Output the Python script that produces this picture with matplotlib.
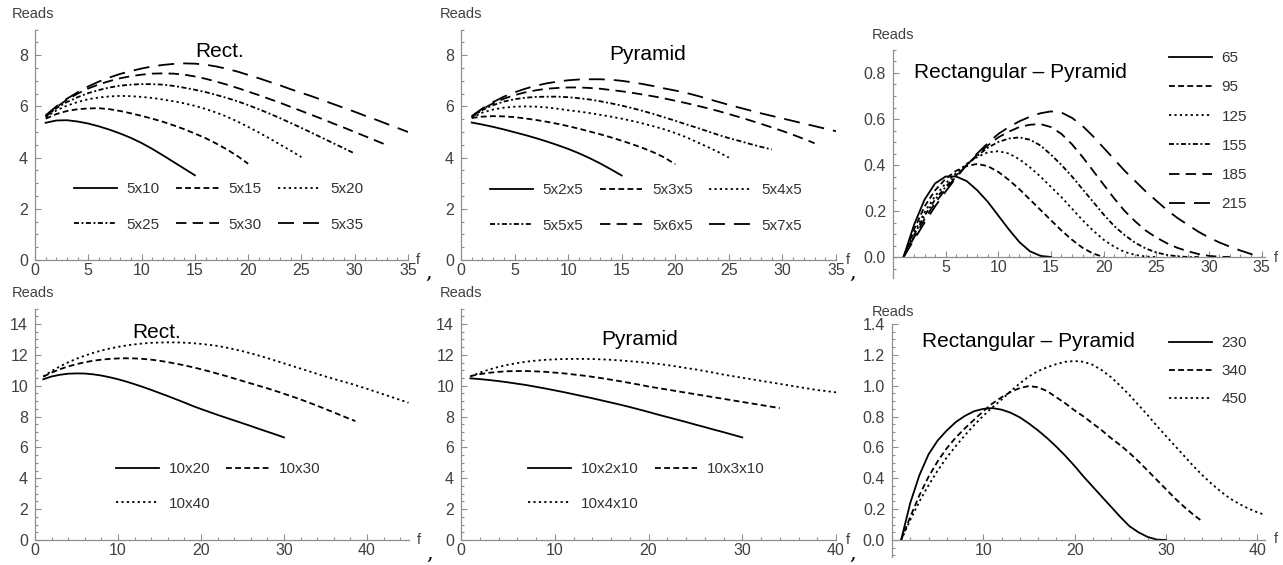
import matplotlib
matplotlib.use("Agg")
import matplotlib.pyplot as plt
from matplotlib.ticker import MultipleLocator, FixedLocator, FormatStrFormatter

plt.rcParams['font.family'] = ['Liberation Sans', 'DejaVu Sans']
plt.rcParams['lines.scale_dashes'] = False

# ---- top left: Rect. (5 x n) ----
rect5_labels = ["5x10", "5x15", "5x20", "5x25", "5x30", "5x35"]
rect5_ends = [15, 20, 25, 30, 33, 35]
rect5_10 = [5.36, 5.45, 5.46, 5.41, 5.33, 5.22, 5.09, 4.94, 4.77, 4.57, 4.34, 4.09, 3.83, 3.57, 3.31]
rect5_15 = [5.52, 5.70, 5.82, 5.89, 5.92, 5.93, 5.89, 5.82, 5.73, 5.63, 5.52, 5.40, 5.26, 5.11, 4.94,
            4.76, 4.55, 4.32, 4.06, 3.76]
rect5_20 = [5.58, 5.84, 6.03, 6.17, 6.28, 6.35, 6.39, 6.41, 6.40, 6.37, 6.33, 6.27, 6.20, 6.12, 6.02,
            5.90, 5.76, 5.60, 5.41, 5.20, 4.98, 4.75, 4.51, 4.27, 4.02]
rect5_25 = [5.60, 5.93, 6.17, 6.36, 6.52, 6.64, 6.74, 6.81, 6.85, 6.87, 6.87, 6.85, 6.80, 6.73, 6.65,
            6.56, 6.45, 6.33, 6.20, 6.05, 5.89, 5.72, 5.54, 5.35, 5.16, 4.96, 4.76, 4.56, 4.36, 4.16]
rect5_30 = [5.62, 5.97, 6.26, 6.50, 6.70, 6.86, 6.99, 7.10, 7.18, 7.24, 7.28, 7.29, 7.28, 7.24, 7.17,
            7.08, 6.97, 6.85, 6.72, 6.58, 6.44, 6.29, 6.14, 5.98, 5.82, 5.66, 5.50, 5.33, 5.17, 5.00,
            4.83, 4.66, 4.49]
rect5_35 = [5.65, 6.00, 6.30, 6.55, 6.78, 6.97, 7.13, 7.27, 7.38, 7.48, 7.56, 7.62, 7.66, 7.68, 7.67,
            7.63, 7.56, 7.47, 7.36, 7.23, 7.10, 6.96, 6.82, 6.67, 6.53, 6.39, 6.24, 6.09, 5.94, 5.79,
            5.63, 5.48, 5.32, 5.16, 5.00]

# ---- top middle: Pyramid (5 x k x 5) ----
pyr5_labels = ["5x2x5", "5x3x5", "5x4x5", "5x5x5", "5x6x5", "5x7x5"]
pyr5_ends = [15, 20, 25, 29, 33, 35]
pyr5_2 = [5.37, 5.29, 5.20, 5.10, 4.99, 4.88, 4.76, 4.63, 4.49, 4.34, 4.17, 3.98, 3.77, 3.54, 3.30]
pyr5_3 = [5.55, 5.60, 5.62, 5.61, 5.58, 5.53, 5.47, 5.40, 5.32, 5.23, 5.13, 5.02, 4.91, 4.79, 4.66,
          4.52, 4.37, 4.20, 4.00, 3.74]
pyr5_4 = [5.55, 5.76, 5.88, 5.95, 5.99, 6.00, 5.99, 5.96, 5.91, 5.85, 5.80, 5.74, 5.67, 5.60, 5.52,
          5.43, 5.33, 5.22, 5.10, 4.96, 4.80, 4.61, 4.42, 4.22, 4.00]
pyr5_5 = [5.58, 5.86, 6.05, 6.19, 6.28, 6.34, 6.37, 6.38, 6.38, 6.36, 6.32, 6.27, 6.20, 6.12, 6.03,
          5.93, 5.82, 5.70, 5.57, 5.44, 5.30, 5.17, 5.03, 4.89, 4.76, 4.65, 4.53, 4.42, 4.32]
pyr5_6 = [5.60, 5.90, 6.12, 6.30, 6.44, 6.55, 6.63, 6.69, 6.72, 6.74, 6.74, 6.72, 6.69, 6.64, 6.59,
          6.53, 6.46, 6.39, 6.31, 6.22, 6.13, 6.03, 5.93, 5.82, 5.70, 5.58, 5.45, 5.32, 5.18, 5.04,
          4.89, 4.73, 4.56]
pyr5_7 = [5.62, 5.92, 6.17, 6.38, 6.55, 6.69, 6.81, 6.90, 6.97, 7.02, 7.05, 7.06, 7.06, 7.04, 7.00,
          6.94, 6.87, 6.79, 6.70, 6.62, 6.53, 6.42, 6.30, 6.18, 6.06, 5.95, 5.84, 5.73, 5.63, 5.53,
          5.43, 5.33, 5.23, 5.13, 5.03]

# ---- top right: Rectangular - Pyramid ----
diff1_labels = ["65", "95", "125", "155", "185", "215"]
diff1_ends = [15, 20, 25, 29, 32, 35]
d65 = [0, 0.14, 0.25, 0.32, 0.35, 0.35, 0.33, 0.29, 0.24, 0.18, 0.12, 0.065, 0.025, 0.005, 0]
d95 = [0, 0.12, 0.22, 0.29, 0.34, 0.375, 0.395, 0.405, 0.395, 0.37, 0.335, 0.295, 0.25, 0.205,
       0.16, 0.115, 0.075, 0.04, 0.015, 0]
d125 = [0, 0.105, 0.195, 0.265, 0.32, 0.365, 0.405, 0.435, 0.455, 0.46, 0.45, 0.425, 0.39, 0.35,
        0.305, 0.26, 0.21, 0.16, 0.115, 0.075, 0.045, 0.022, 0.009, 0.002, 0]
d155 = [0, 0.095, 0.18, 0.25, 0.305, 0.355, 0.40, 0.44, 0.475, 0.50, 0.515, 0.52, 0.51, 0.485,
        0.445, 0.40, 0.35, 0.295, 0.24, 0.185, 0.135, 0.095, 0.062, 0.037, 0.02, 0.009, 0.003, 0, 0]
d185 = [0, 0.085, 0.165, 0.235, 0.295, 0.35, 0.40, 0.445, 0.485, 0.52, 0.545, 0.565, 0.575, 0.578,
        0.565, 0.535, 0.49, 0.435, 0.375, 0.315, 0.255, 0.2, 0.155, 0.115, 0.085, 0.06, 0.04, 0.025,
        0.013, 0.005, 0.001, 0]
d215 = [0, 0.075, 0.15, 0.22, 0.285, 0.345, 0.40, 0.45, 0.495, 0.535, 0.565, 0.59, 0.61, 0.625,
        0.633, 0.628, 0.605, 0.57, 0.525, 0.475, 0.425, 0.375, 0.33, 0.285, 0.245, 0.205, 0.17, 0.14,
        0.11, 0.085, 0.063, 0.045, 0.028, 0.013, 0]

# ---- bottom left: Rect. (10 x n) ----
rect10_labels = ["10x20", "10x30", "10x40"]
rect10_20_f = list(range(1, 31))
rect10_20 = [10.42, 10.60, 10.71, 10.78, 10.80, 10.79, 10.74, 10.66, 10.55, 10.42, 10.27, 10.10,
             9.92, 9.73, 9.53, 9.33, 9.12, 8.91, 8.69, 8.49, 8.30, 8.11, 7.93, 7.75, 7.57, 7.39,
             7.20, 7.02, 6.84, 6.65]
rect10_30_f = list(range(1, 39)) + [38.6]
rect10_30 = [10.59, 10.85, 11.07, 11.25, 11.40, 11.52, 11.62, 11.69, 11.74, 11.77, 11.78, 11.77,
             11.74, 11.69, 11.62, 11.53, 11.43, 11.32, 11.20, 11.07, 10.93, 10.78, 10.63, 10.47,
             10.31, 10.15, 9.99, 9.83, 9.66, 9.48, 9.30, 9.11, 8.91, 8.70, 8.49, 8.27, 8.05, 7.83,
             7.71]
rect10_40_f = list(range(1, 46))
rect10_40 = [10.60, 10.95, 11.25, 11.52, 11.75, 11.95, 12.13, 12.28, 12.41, 12.52, 12.61, 12.68,
             12.74, 12.78, 12.80, 12.81, 12.81, 12.79, 12.76, 12.71, 12.65, 12.58, 12.48, 12.36,
             12.24, 12.10, 11.95, 11.79, 11.62, 11.45, 11.28, 11.11, 10.94, 10.77, 10.60, 10.44,
             10.29, 10.14, 9.97, 9.80, 9.62, 9.44, 9.26, 9.08, 8.90]

# ---- bottom middle: Pyramid (10 x k x 10) ----
pyr10_labels = ["10x2x10", "10x3x10", "10x4x10"]
pyr10_ends = [30, 34, 40]
pyr10_2 = [10.48, 10.43, 10.37, 10.30, 10.22, 10.13, 10.04, 9.93, 9.82, 9.70, 9.58, 9.45, 9.32,
           9.19, 9.05, 8.91, 8.77, 8.62, 8.46, 8.30, 8.13, 7.97, 7.81, 7.65, 7.48, 7.32, 7.15, 6.99,
           6.82, 6.65]
pyr10_3 = [10.63, 10.75, 10.84, 10.90, 10.94, 10.95, 10.95, 10.93, 10.90, 10.85, 10.80, 10.73,
           10.66, 10.58, 10.49, 10.39, 10.29, 10.18, 10.07, 9.95, 9.85, 9.75, 9.65, 9.55, 9.45,
           9.35, 9.25, 9.15, 9.05, 8.95, 8.85, 8.75, 8.65, 8.55]
pyr10_4 = [10.59, 10.85, 11.05, 11.22, 11.36, 11.47, 11.56, 11.63, 11.68, 11.71, 11.73, 11.74,
           11.74, 11.73, 11.71, 11.68, 11.64, 11.59, 11.54, 11.48, 11.42, 11.34, 11.25, 11.15,
           11.06, 10.95, 10.84, 10.72, 10.62, 10.52, 10.42, 10.32, 10.22, 10.12, 10.02, 9.92,
           9.82, 9.72, 9.65, 9.57]

# ---- bottom right: Rectangular - Pyramid ----
diff2_labels = ["230", "340", "450"]
diff2_ends = [30, 34, 41]
d230 = [0, 0.24, 0.42, 0.555, 0.645, 0.71, 0.765, 0.805, 0.835, 0.85, 0.855, 0.845, 0.825, 0.795,
        0.755, 0.71, 0.66, 0.605, 0.545, 0.48, 0.41, 0.345, 0.28, 0.215, 0.15, 0.09, 0.05, 0.02,
        0.003, 0]
d340 = [0, 0.15, 0.29, 0.41, 0.51, 0.595, 0.665, 0.725, 0.78, 0.835, 0.885, 0.925, 0.96, 0.985,
        0.998, 0.99, 0.965, 0.925, 0.885, 0.84, 0.80, 0.755, 0.71, 0.66, 0.615, 0.565, 0.51, 0.45,
        0.39, 0.33, 0.27, 0.215, 0.165, 0.12]
d450 = [0, 0.13, 0.25, 0.355, 0.45, 0.535, 0.61, 0.68, 0.745, 0.805, 0.86, 0.91, 0.965, 1.015,
        1.06, 1.095, 1.12, 1.14, 1.155, 1.16, 1.155, 1.135, 1.10, 1.055, 1.0, 0.94, 0.875, 0.81,
        0.74, 0.675, 0.61, 0.545, 0.48, 0.42, 0.365, 0.315, 0.27, 0.235, 0.205, 0.18, 0.16]

W, H = 1283, 565
fig = plt.figure(figsize=(W / 100, H / 100), dpi=100)

AXIS_GRAY = '#8f8f8f'
LABEL_GRAY = '#404040'
LW = 1.3
STYLES = ['-', (0, (4.2, 2.4)), (0, (1.6, 2.3)), (0, (3.6, 1.8, 1.4, 1.8)),
          (0, (7.5, 4.5)), (0, (11.5, 6.5))]


def fx(px):
    return px / W


def fy(py):
    return 1 - py / H


def panel(left, right, top, bottom, xlim, ylim):
    ax = fig.add_axes([fx(left), fy(bottom), (right - left) / W, (bottom - top) / H])
    ax.set_xlim(*xlim)
    ax.set_ylim(*ylim)
    ax.patch.set_alpha(0)
    for s in ('top', 'right'):
        ax.spines[s].set_visible(False)
    ax.spines['bottom'].set_position(('data', 0))
    for s in ('left', 'bottom'):
        ax.spines[s].set_color(AXIS_GRAY)
        ax.spines[s].set_linewidth(0.9)
    ax.tick_params(which='both', direction='in', colors=AXIS_GRAY, labelcolor=LABEL_GRAY,
                   labelsize=11.5, width=0.8)
    ax.tick_params(which='major', length=4)
    ax.tick_params(which='minor', length=2.2)
    ax.tick_params(axis='x', pad=2)
    ax.tick_params(axis='y', pad=5)
    return ax


def add_legend(ax, lines, labels, order, ncol, left, top, labelspacing):
    ax.legend([lines[i] for i in order], [labels[i] for i in order], ncol=ncol,
              loc='upper left', bbox_to_anchor=(fx(left), fy(top)),
              bbox_transform=fig.transFigure, frameon=False, borderpad=0,
              borderaxespad=0, handlelength=2.8, handletextpad=0.65,
              labelspacing=labelspacing, columnspacing=1.05, fontsize=11,
              labelcolor='#333333')


def put(px, py, s, size, color='black', ha='center', **kw):
    fig.text(fx(px), fy(py), s, fontsize=size, color=color, ha=ha, va='baseline', **kw)


def series_int(ax, ys_list, ends, styles):
    lines = []
    for ys, end, st in zip(ys_list, ends, styles):
        f = list(range(1, end + 1))
        ln, = ax.plot(f, ys, color='black', lw=LW, linestyle=st)
        lines.append(ln)
    return lines


# panel 1
ax1 = panel(35, 408, 29.6, 260, (0, 35), (0, 9))
ax1.xaxis.set_major_locator(MultipleLocator(5))
ax1.xaxis.set_minor_locator(MultipleLocator(1))
ax1.yaxis.set_major_locator(FixedLocator([0, 2, 4, 6, 8]))
ax1.yaxis.set_minor_locator(MultipleLocator(0.5))
l1 = series_int(ax1, [rect5_10, rect5_15, rect5_20, rect5_25, rect5_30, rect5_35], rect5_ends, STYLES)
add_legend(ax1, l1, rect5_labels, [0, 3, 1, 4, 2, 5], 3, 74, 182, 1.42)

# panel 2
ax2 = panel(461, 836, 29.6, 260, (0, 35), (0, 9))
ax2.xaxis.set_major_locator(MultipleLocator(5))
ax2.xaxis.set_minor_locator(MultipleLocator(1))
ax2.yaxis.set_major_locator(FixedLocator([0, 2, 4, 6, 8]))
ax2.yaxis.set_minor_locator(MultipleLocator(0.5))
l2 = series_int(ax2, [pyr5_2, pyr5_3, pyr5_4, pyr5_5, pyr5_6, pyr5_7], pyr5_ends, STYLES)
add_legend(ax2, l2, pyr5_labels, [0, 3, 1, 4, 2, 5], 3, 490, 183, 1.42)

# panel 3
ax3 = panel(893, 1264.7, 50, 277.7, (0, 35.3), (-0.09, 0.9))
ax3.xaxis.set_major_locator(FixedLocator([5, 10, 15, 20, 25, 30, 35]))
ax3.xaxis.set_minor_locator(MultipleLocator(1))
ax3.yaxis.set_major_locator(FixedLocator([0, 0.2, 0.4, 0.6, 0.8]))
ax3.yaxis.set_minor_locator(MultipleLocator(0.05))
ax3.yaxis.set_major_formatter(FormatStrFormatter('%.1f'))
l3 = series_int(ax3, [d65, d95, d125, d155, d185, d215], diff1_ends, STYLES)
add_legend(ax3, l3, diff1_labels, [0, 1, 2, 3, 4, 5], 1, 1169, 51, 1.0)

# panel 4
ax4 = panel(35, 408.5, 308.6, 540, (0, 45), (0, 15))
ax4.xaxis.set_major_locator(FixedLocator([0, 10, 20, 30, 40]))
ax4.xaxis.set_minor_locator(MultipleLocator(2))
ax4.yaxis.set_major_locator(MultipleLocator(2))
ax4.yaxis.set_minor_locator(MultipleLocator(0.5))
l4 = []
for f, ys, st in zip([rect10_20_f, rect10_30_f, rect10_40_f], [rect10_20, rect10_30, rect10_40], STYLES):
    ln, = ax4.plot(f, ys, color='black', lw=LW, linestyle=st)
    l4.append(ln)
add_legend(ax4, l4, rect10_labels, [0, 2, 1], 2, 116, 462, 1.35)

# panel 5
ax5 = panel(461, 836, 308.6, 540, (0, 40), (0, 15))
ax5.xaxis.set_major_locator(MultipleLocator(10))
ax5.xaxis.set_minor_locator(MultipleLocator(2))
ax5.yaxis.set_major_locator(MultipleLocator(2))
ax5.yaxis.set_minor_locator(MultipleLocator(0.5))
l5 = series_int(ax5, [pyr10_2, pyr10_3, pyr10_4], pyr10_ends, STYLES)
add_legend(ax5, l5, pyr10_labels, [0, 2, 1], 2, 528, 462, 1.35)

# panel 6
ax6 = panel(892, 1265.4, 324, 557, (0, 40.9), (-0.11, 1.4))
ax6.xaxis.set_major_locator(FixedLocator([10, 20, 30, 40]))
ax6.xaxis.set_minor_locator(MultipleLocator(2))
ax6.yaxis.set_major_locator(FixedLocator([0, 0.2, 0.4, 0.6, 0.8, 1.0, 1.2, 1.4]))
ax6.yaxis.set_minor_locator(MultipleLocator(0.05))
ax6.yaxis.set_major_formatter(FormatStrFormatter('%.1f'))
l6 = series_int(ax6, [d230, d340, d450], diff2_ends, STYLES)
add_legend(ax6, l6, diff2_labels, [0, 1, 2], 1, 1169, 336, 0.92)

# titles
put(220, 57, "Rect.", 15)
put(648, 60, "Pyramid", 15)
put(1020, 78, "Rectangular \u2013 Pyramid", 15)
put(157, 338, "Rect.", 15)
put(640, 345, "Pyramid", 15)
put(1028, 347, "Rectangular \u2013 Pyramid", 15)

# axis labels
for x, y in [(33, 18), (461, 18), (893, 39), (33, 297), (461, 297), (893, 316)]:
    put(x, y, "Reads", 10.5, color=LABEL_GRAY)
for x, y in [(418, 264), (848, 264), (1276, 262), (419, 544), (848, 544), (1276, 543)]:
    put(x, y, "f", 10.5, color=LABEL_GRAY)

# separating commas
for x, y in [(429, 278), (853, 278), (430, 559), (853, 559)]:
    put(x, y, ",", 15, family=['DejaVu Serif'])

fig.savefig("out.png", dpi=100)
